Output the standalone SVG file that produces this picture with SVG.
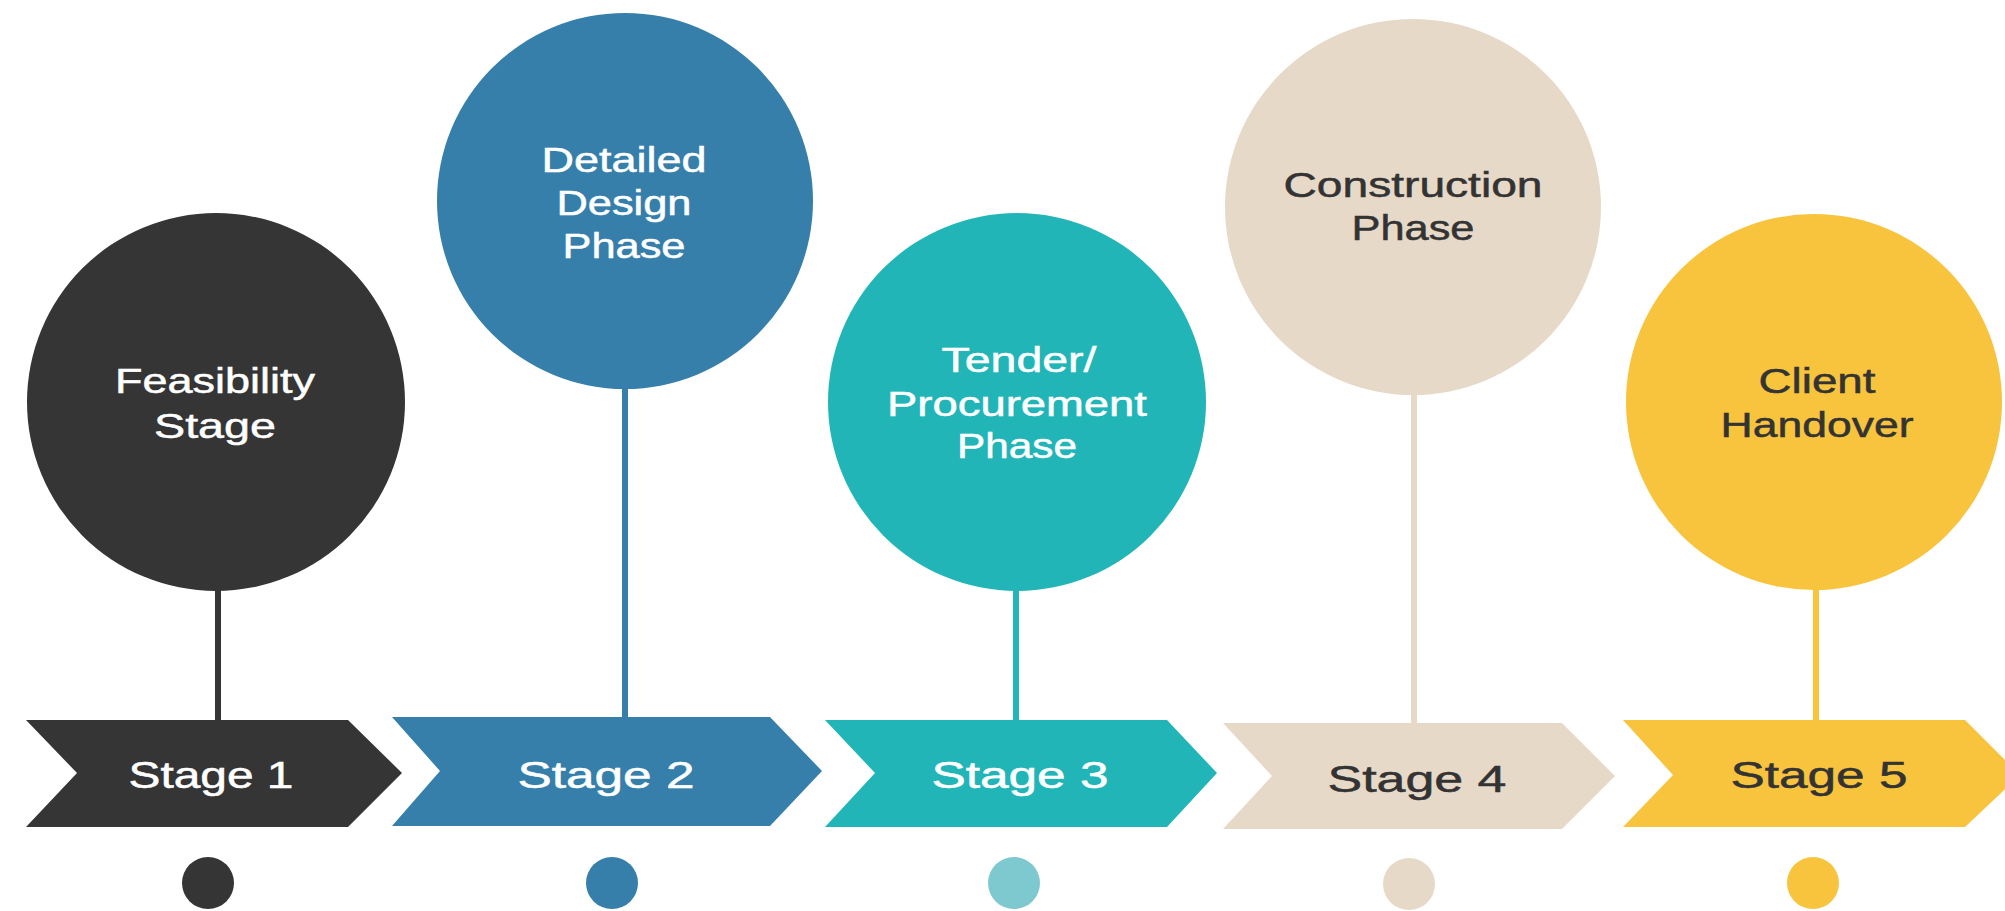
<svg xmlns="http://www.w3.org/2000/svg" width="2005" height="911" viewBox="0 0 2005 911">
<style>
.t{font-family:"Liberation Sans",Arial,sans-serif;font-size:35px;text-anchor:middle}
.s{font-family:"Liberation Sans",Arial,sans-serif;font-size:36px;text-anchor:middle}
.w{fill:#ffffff;stroke:#ffffff;stroke-width:0.5}
.d{fill:#333333;stroke:#333333;stroke-width:0.5}
.stem{stroke-width:6;fill:none}
.c1{fill:#353535}.k1{stroke:#353535}
.c2{fill:#367fab}.k2{stroke:#367fab}
.c3{fill:#22b5b8}.k3{stroke:#22b5b8}
.c4{fill:#e6d9c8}.k4{stroke:#e6d9c8}
.c5{fill:#f8c33d}.k5{stroke:#f8c33d}
</style>
<rect width="2005" height="911" fill="#ffffff"/>
<g id="connectors">
<line class="stem k1" x1="218" y1="585" x2="218" y2="722"/>
<line class="stem k2" x1="625" y1="380" x2="625" y2="719"/>
<line class="stem k3" x1="1016" y1="585" x2="1016" y2="722"/>
<line class="stem k4" x1="1414" y1="388" x2="1414" y2="725"/>
<line class="stem k5" x1="1816" y1="585" x2="1816" y2="722"/>
</g>
<g id="node1">
<circle class="c1" cx="216" cy="402" r="189"/>
<text class="t w" x="215" y="393" textLength="200" lengthAdjust="spacingAndGlyphs">Feasibility</text>
<text class="t w" x="215" y="438" textLength="122" lengthAdjust="spacingAndGlyphs">Stage</text>
<polygon class="c1" points="26,720 348,720 402,773 348,827 26,827 77,773"/>
<text class="s w" x="211" y="788" textLength="165" lengthAdjust="spacingAndGlyphs">Stage 1</text>
<circle class="c1" cx="208" cy="883" r="26"/>
</g>
<g id="node2">
<circle class="c2" cx="625" cy="201" r="188"/>
<text class="t w" x="624" y="172" textLength="165" lengthAdjust="spacingAndGlyphs">Detailed</text>
<text class="t w" x="624" y="215" textLength="135" lengthAdjust="spacingAndGlyphs">Design</text>
<text class="t w" x="624" y="258" textLength="123" lengthAdjust="spacingAndGlyphs">Phase</text>
<polygon class="c2" points="392,717 770,717 822,771 770,826 392,826 440,771"/>
<text class="s w" x="606" y="788" textLength="177" lengthAdjust="spacingAndGlyphs">Stage 2</text>
<circle class="c2" cx="612" cy="883" r="26"/>
</g>
<g id="node3">
<circle class="c3" cx="1017" cy="402" r="189"/>
<text class="t w" x="1019" y="372" textLength="155" lengthAdjust="spacingAndGlyphs">Tender/</text>
<text class="t w" x="1017" y="416" textLength="260" lengthAdjust="spacingAndGlyphs">Procurement</text>
<text class="t w" x="1017" y="458" textLength="120" lengthAdjust="spacingAndGlyphs">Phase</text>
<polygon class="c3" points="825,720 1167,720 1217,773 1167,827 825,827 875,773"/>
<text class="s w" x="1020" y="788" textLength="177" lengthAdjust="spacingAndGlyphs">Stage 3</text>
<circle cx="1014" cy="883" r="26" fill="#7ec8cf"/>
</g>
<g id="node4">
<circle class="c4" cx="1413" cy="207" r="188"/>
<text class="t d" x="1413" y="197" textLength="259" lengthAdjust="spacingAndGlyphs">Construction</text>
<text class="t d" x="1413" y="240" textLength="123" lengthAdjust="spacingAndGlyphs">Phase</text>
<polygon class="c4" points="1223,723 1562,723 1615,776 1562,829 1223,829 1272,776"/>
<text class="s d" x="1417" y="792" textLength="179" lengthAdjust="spacingAndGlyphs">Stage 4</text>
<circle class="c4" cx="1409" cy="884" r="26"/>
</g>
<g id="node5">
<circle class="c5" cx="1814" cy="402" r="188"/>
<text class="t d" x="1817" y="393" textLength="117" lengthAdjust="spacingAndGlyphs">Client</text>
<text class="t d" x="1817" y="437" textLength="193" lengthAdjust="spacingAndGlyphs">Handover</text>
<polygon class="c5" points="1623,720 1965,720 2020,775 1965,827 1623,827 1673,775"/>
<text class="s d" x="1819" y="788" textLength="177" lengthAdjust="spacingAndGlyphs">Stage 5</text>
<circle class="c5" cx="1813" cy="883" r="26"/>
</g>
</svg>
